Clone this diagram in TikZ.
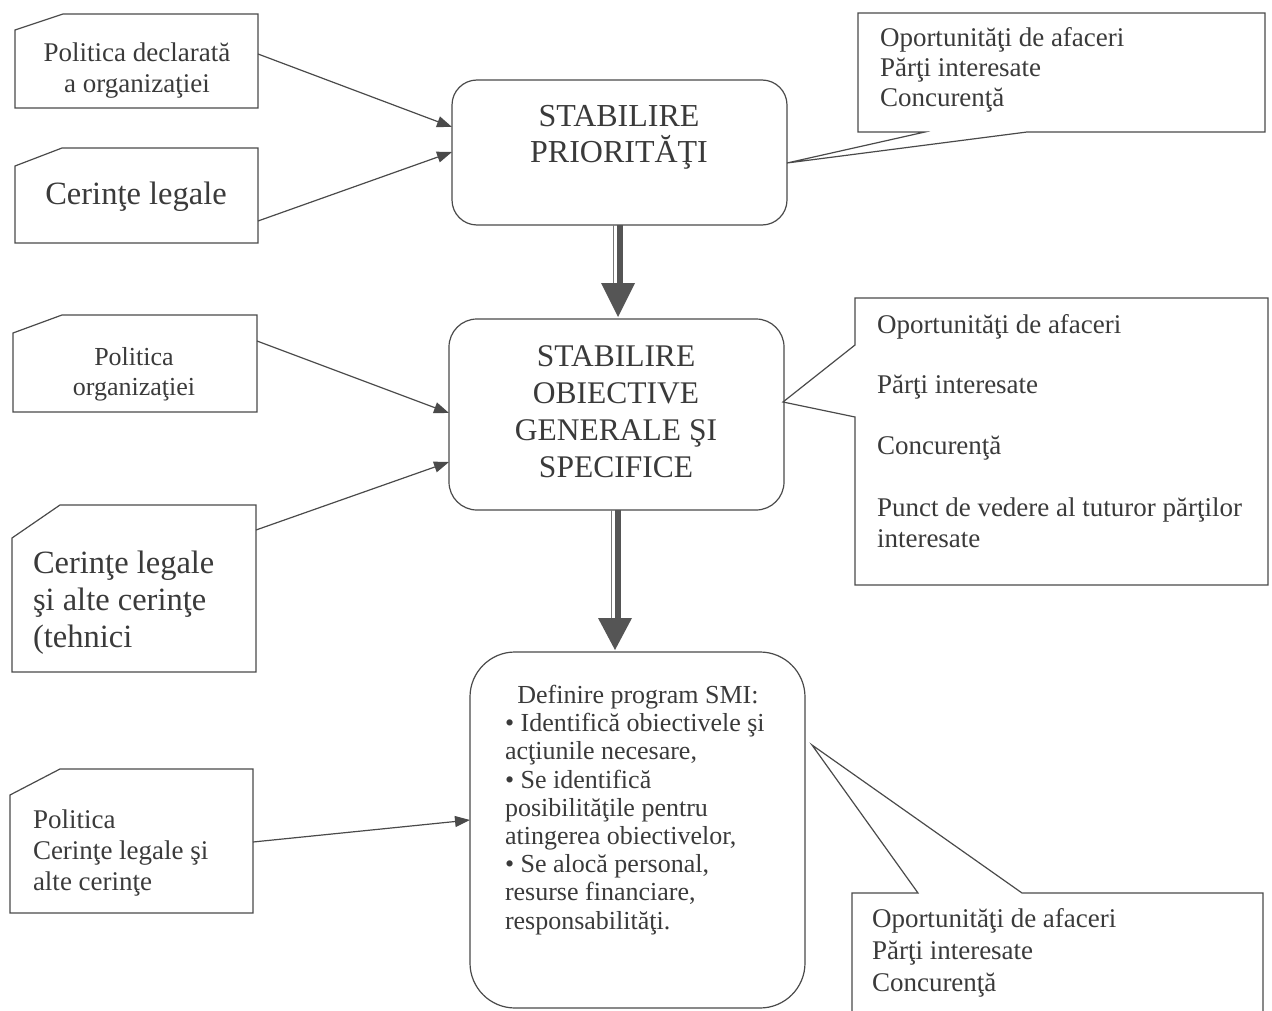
\documentclass[tikz,border=0pt]{standalone}
\usepackage{fontspec}
\setmainfont{Liberation Serif}
\usetikzlibrary{arrows.meta,calc}
\definecolor{ink}{HTML}{3A3A3A}
\definecolor{lin}{HTML}{4A4A4A}
\definecolor{shaftdark}{HTML}{555555}
\begin{document}
\begin{tikzpicture}[x=1pt,y=-1pt,
  frame/.style={draw=none, inner sep=0pt, outer sep=0pt, rectangle},
  outline/.style={draw=lin, line width=1.2pt, line join=miter},
  rbox/.style={draw=lin, line width=1.2pt, inner sep=0pt, outer sep=0pt, rectangle, rounded corners=#1},
  txt/.style={text=ink, inner sep=0pt, outer sep=0pt},
  thinarrow/.style={draw=lin, line width=1.2pt, -{Triangle[length=15pt,width=11pt]}},
  headfill/.style={fill=shaftdark, draw=none},
]
\useasboundingbox (0,0) rectangle (1272,1011);

% ---------- left input boxes (chamfered) ----------
\node[frame, minimum width=243pt, minimum height=94pt] (A) at (136.5,61) {};
\draw[outline] (A.south west) -- ([yshift=-16pt]A.north west) -- ([xshift=48pt]A.north west) -- (A.north east) -- (A.south east) -- cycle;
\node[txt, anchor=base, align=center, font=\fontsize{27}{31}\selectfont] (At) at (137,93) {Politica declarată\\a organizaţiei};

\node[frame, minimum width=243pt, minimum height=95pt] (B) at (136.5,195.5) {};
\draw[outline] (B.south west) -- ([yshift=-18pt]B.north west) -- ([xshift=47pt]B.north west) -- (B.north east) -- (B.south east) -- cycle;
\node[txt, anchor=base, font=\fontsize{32.5}{38}\selectfont] (Bt) at (136,205) {Cerinţe legale};

\node[frame, minimum width=244pt, minimum height=97pt] (C) at (135,363.5) {};
\draw[outline] (C.south west) -- ([yshift=-18pt]C.north west) -- ([xshift=49pt]C.north west) -- (C.north east) -- (C.south east) -- cycle;
\node[txt, anchor=base, align=center, font=\fontsize{26}{30}\selectfont] (Ct) at (134,395) {Politica\\organizaţiei};

\node[frame, minimum width=244pt, minimum height=167pt] (D) at (134,588.5) {};
\draw[outline] (D.south west) -- ([yshift=-33pt]D.north west) -- ([xshift=48pt]D.north west) -- (D.north east) -- (D.south east) -- cycle;
\node[txt, anchor=base west, align=left, font=\fontsize{32.5}{37}\selectfont] (Dt) at (33,647) {Cerinţe legale\\şi alte cerinţe\\(tehnici};

\node[frame, minimum width=243pt, minimum height=144pt] (E) at (131.5,841) {};
\draw[outline] (E.south west) -- ([yshift=-26pt]E.north west) -- ([xshift=50pt]E.north west) -- (E.north east) -- (E.south east) -- cycle;
\node[txt, anchor=base west, align=left, font=\fontsize{27}{31}\selectfont] (Et) at (33,890) {Politica\\Cerinţe legale şi\\alte cerinţe};

% ---------- central process boxes ----------
\node[rbox=25pt, minimum width=335pt, minimum height=145pt] (B1) at (619.5,152.5) {};
\node[txt, anchor=base, align=center, font=\fontsize{32}{36}\selectfont] (B1t) at (619,163) {STABILIRE\\PRIORITĂŢI};

\node[rbox=28pt, minimum width=335pt, minimum height=191pt] (B2) at (616.5,414.5) {};
\node[txt, anchor=base, align=center, font=\fontsize{31.5}{36.7}\selectfont] (B2t) at (616,477) {STABILIRE\\OBIECTIVE\\GENERALE ŞI\\SPECIFICE};

\node[rbox=45pt, minimum width=335pt, minimum height=356pt] (B3) at (637.5,830) {};
\node[txt, anchor=base, font=\fontsize{26}{28.2}\selectfont] (B3h) at (638,703) {Definire program SMI:};
\node[txt, anchor=base west, align=left, font=\fontsize{26}{28.2}\selectfont] (B3t) at (505,929)
  {• Identifică obiectivele şi\\acţiunile necesare,\\• Se identifică\\posibilităţile pentru\\atingerea obiectivelor,\\• Se alocă personal,\\resurse financiare,\\responsabilităţi.};

% ---------- thin input arrows ----------
\draw[thinarrow] ([yshift=-40pt]A.north east) -- ([yshift=-47pt]B1.north west);
\draw[thinarrow] ([yshift=-73pt]B.north east) -- ([yshift=-72pt]B1.north west);
\draw[thinarrow] ([yshift=-26pt]C.north east) -- ([yshift=-94pt]B2.north west);
\draw[thinarrow] ([yshift=-25pt]D.north east) -- ([yshift=-143pt]B2.north west);
\draw[thinarrow] ([yshift=-73pt]E.north east) -- ([yshift=-168pt]B3.north west);

% ---------- thick flow arrows ----------
% B1 -> B2
\draw[draw=lin!75, line width=0.9pt] ($(B1.south)+(-6.5,0)$) -- ($(B1.south)+(-6.5,58)$);
\fill[shaftdark] ($(B1.south)+(-2.5,0)$) rectangle ($(B1.south)+(3.5,58)$);
\fill[headfill] ($(B1.south)+(-18.5,58)$) -- ($(B1.south)+(15.5,58)$) -- ($(B2.north)+(1.5,-2)$) -- cycle;
% B2 -> B3
\draw[draw=lin!75, line width=0.9pt] ($(B2.south)+(-5.5,0)$) -- ($(B2.south)+(-5.5,108)$);
\fill[shaftdark] ($(B2.south)+(-1.5,0)$) rectangle ($(B2.south)+(4.5,108)$);
\fill[headfill] ($(B2.south)+(-18.5,108)$) -- ($(B2.south)+(15.5,108)$) -- ($(B3.north)+(-22.5,-2)$) -- cycle;

% ---------- callouts ----------
\coordinate (t1) at ([yshift=-83pt]B1.north east);
\node[frame, minimum width=407pt, minimum height=119pt] (K1) at (1061.5,72.5) {};
\draw[outline] (K1.north west) -- (K1.north east) -- (K1.south east) -- ([xshift=-238pt]K1.south east) -- (t1) -- ([xshift=67pt]K1.south west) -- (K1.south west) -- cycle;
\node[txt, anchor=base west, align=left, font=\fontsize{27}{30}\selectfont] (K1t) at (880,107) {Oportunităţi de afaceri\\Părţi interesate\\Concurenţă};

\coordinate (t2) at ([xshift=-1pt,yshift=-83pt]B2.north east);
\node[frame, minimum width=413pt, minimum height=287pt] (K2) at (1061.5,441.5) {};
\draw[outline] (K2.north west) -- (K2.north east) -- (K2.south east) -- (K2.south west) -- ([yshift=-119pt]K2.north west) -- (t2) -- ([yshift=-47pt]K2.north west) -- cycle;
\node[txt, anchor=base west, align=left, font=\fontsize{27}{31}\selectfont] (K2t) at (877,547) {Oportunităţi de afaceri\\[29pt]Părţi interesate\\[30pt]Concurenţă\\[31pt]Punct de vedere al tuturor părţilor\\interesate};

\coordinate (t3) at ([xshift=7pt,yshift=-93pt]B3.north east);
\node[frame, minimum width=411pt, minimum height=120pt] (K3) at (1057.5,953) {};
\draw[outline] (K3.south west) -- (K3.north west) -- ([xshift=66pt]K3.north west) -- (t3) -- ([xshift=170pt]K3.north west) -- (K3.north east) -- (K3.south east);
\node[txt, anchor=base west, align=left, font=\fontsize{27}{32}\selectfont] (K3t) at (872,991) {Oportunităţi de afaceri\\Părţi interesate\\Concurenţă};
\end{tikzpicture}
\end{document}
